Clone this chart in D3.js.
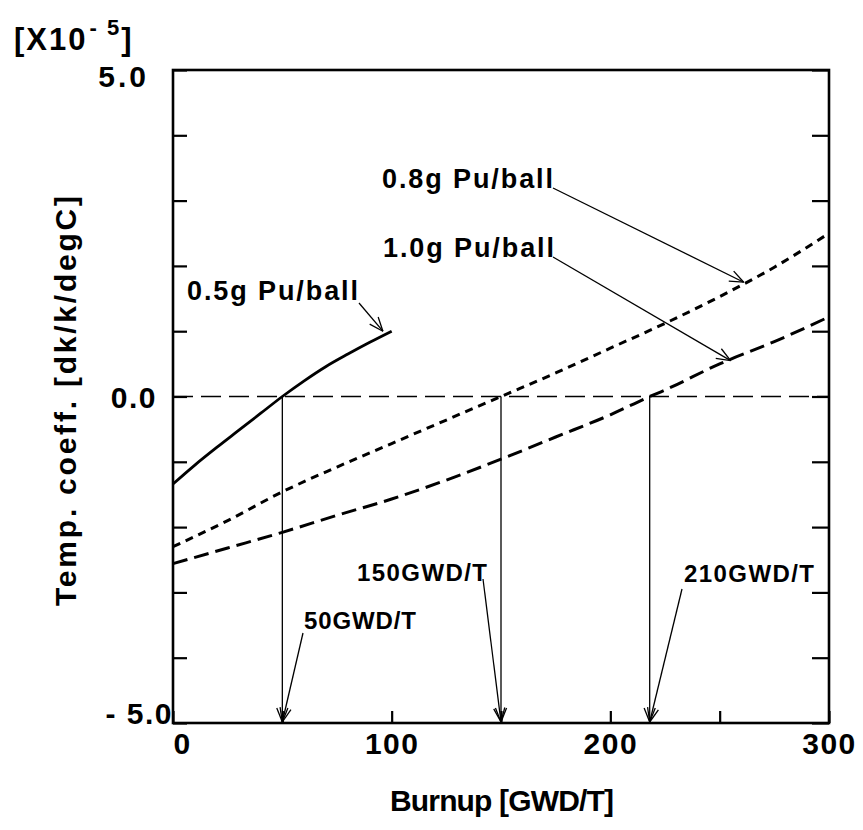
<!DOCTYPE html>
<html>
<head>
<meta charset="utf-8">
<script src="https://cdn.jsdelivr.net/npm/d3@7"></script>
<style>
  html, body { margin: 0; padding: 0; background: #fff; }
  svg { display: block; }
  text { font-family: "Liberation Sans", Arial, Helvetica, sans-serif; font-weight: bold; fill: #000; }
</style>
</head>
<body>
<svg id="chart" width="863" height="830"></svg>
<script>
// Burnup [GWD/T] sample points and temperature coefficient [x10^-5 dk/k/degC]
const burnup05 = [0, 10, 20, 30, 40, 50, 60, 70, 80, 90, 100];
const coef05   = [-1.34, -1.05, -0.78, -0.52, -0.26, 0.0, 0.24, 0.46, 0.65, 0.83, 1.0];

const burnup08 = [0, 25, 50, 75, 100, 125, 150, 175, 200, 225, 250, 275, 300];
const coef08   = [-2.30, -1.90, -1.46, -1.08, -0.72, -0.36, 0.0, 0.36, 0.74, 1.12, 1.53, 1.98, 2.50];

const burnup10 = [0, 25, 50, 75, 100, 125, 150, 175, 200, 218, 225, 250, 275, 300];
const coef10   = [-2.56, -2.32, -2.08, -1.82, -1.57, -1.28, -0.96, -0.62, -0.28, 0.0, 0.10, 0.50, 0.84, 1.22];

// Burnup where each curve reaches zero, with its label
const zeroBurnup = [50, 150, 218];
const zeroLabels = ["50GWD/T", "150GWD/T", "210GWD/T"];

// Curve names
const seriesNames = ["0.5g Pu/ball", "0.8g Pu/ball", "1.0g Pu/ball"];

// Axis ticks
const xTicks = [0, 50, 100, 150, 200, 250, 300];
const xTickLabels = ["0", "", "100", "", "200", "", "300"];
const yTicks = [-5, -4, -3, -2, -1, 0, 1, 2, 3, 4, 5];
const yTickLabels = { "-5": "- 5.0", "0": "0.0", "5": "5.0" };

const svg = d3.select("#chart");
const L = 173, R = 829, T = 70, B = 723;
const x = d3.scaleLinear().domain([0, 300]).range([L, R]);
const y = d3.scaleLinear().domain([-5, 5]).range([B, T]);

// zero reference line
svg.append("line")
  .attr("x1", x(0)).attr("x2", x(300)).attr("y1", y(0)).attr("y2", y(0))
  .attr("stroke", "#000").attr("stroke-width", 1.4).attr("stroke-dasharray", "20,8");

// curves
const line = d3.line().x(d => x(d[0])).y(d => y(d[1])).curve(d3.curveMonotoneX);
const series = [
  { xs: burnup05, ys: coef05, dash: null, w: 2.8 },
  { xs: burnup08, ys: coef08, dash: "8,6", w: 3 },
  { xs: burnup10, ys: coef10, dash: "15,7", w: 3 }
];
series.forEach(s => {
  svg.append("path")
    .attr("d", line(d3.zip(s.xs, s.ys)))
    .attr("fill", "none").attr("stroke", "#000")
    .attr("stroke-width", s.w)
    .attr("stroke-dasharray", s.dash);
});

// open arrowhead helper
function arrow(x1, y1, x2, y2, w) {
  const g = svg.append("g").attr("stroke", "#000").attr("stroke-width", w || 1.3).attr("fill", "none");
  g.append("line").attr("x1", x1).attr("y1", y1).attr("x2", x2).attr("y2", y2);
  const a = Math.atan2(y2 - y1, x2 - x1), len = 15, sp = 0.38;
  [a + Math.PI - sp, a + Math.PI + sp].forEach(b => {
    g.append("line").attr("x1", x2).attr("y1", y2)
      .attr("x2", x2 + len * Math.cos(b)).attr("y2", y2 + len * Math.sin(b));
  });
}

// vertical drops from each zero crossing to the axis
zeroBurnup.forEach(b => arrow(x(b), y(0), x(b), y(-5) - 1, 1.3));

// crossing labels with leader arrows
const zeroLabelPos = [
  { tx: 304, ty: 629, w: 112, sx: 303, sy: 633 },
  { tx: 357, ty: 581, w: 130, sx: 483, sy: 579 },
  { tx: 684, ty: 582, w: 130, sx: 682, sy: 589 }
];
zeroLabels.forEach((t, i) => {
  const p = zeroLabelPos[i];
  svg.append("text").attr("x", p.tx).attr("y", p.ty)
    .attr("font-size", 24).attr("textLength", p.w).attr("lengthAdjust", "spacing").text(t);
  arrow(p.sx, p.sy, x(zeroBurnup[i]), y(-5) - 1, 1.3);
});

// curve labels with leader arrows
const seriesTips = [[96, 1.0], [261, 1.75], [255, 0.55]];
const seriesLabelPos = [
  { tx: 187, ty: 300, w: 171, sx: 359, sy: 303 },
  { tx: 382, ty: 188, w: 171, sx: 553, sy: 188 },
  { tx: 383, ty: 257, w: 171, sx: 553, sy: 257 }
];
seriesNames.forEach((t, i) => {
  const p = seriesLabelPos[i];
  svg.append("text").attr("x", p.tx).attr("y", p.ty)
    .attr("font-size", 27).attr("textLength", p.w).attr("lengthAdjust", "spacing").text(t);
  arrow(p.sx, p.sy, x(seriesTips[i][0]), y(seriesTips[i][1]), 1.3);
});

// axes (ticks drawn inward)
const axL = svg.append("g").attr("transform", `translate(${L},0)`)
  .call(d3.axisLeft(y).tickValues(yTicks).tickSizeInner(-14).tickSizeOuter(0)
        .tickFormat(d => yTickLabels[String(d)] || ""));
const axR = svg.append("g").attr("transform", `translate(${R},0)`)
  .call(d3.axisRight(y).tickValues(yTicks).tickSizeInner(-17).tickSizeOuter(0).tickFormat(""));
const axB = svg.append("g").attr("transform", `translate(0,${B})`)
  .call(d3.axisBottom(x).tickValues(xTicks).tickSizeInner(-12).tickSizeOuter(0)
        .tickFormat((d, i) => xTickLabels[i]));
[axL, axR, axB].forEach(g => {
  g.select(".domain").remove();
  g.selectAll(".tick line").attr("stroke", "#000").attr("stroke-width", 2.2);
  g.selectAll("text").attr("font-family", null).attr("font-size", 30)
    .style("letter-spacing", "1.5px");
});
axL.selectAll(".tick text").attr("x", -16).attr("dy", "0.35em");
axL.selectAll(".tick").filter(d => d === 5).select("text").attr("x", -24).attr("dy", "0.55em").style("letter-spacing", "3px");
axL.selectAll(".tick").filter(d => d === -5).select("text").attr("x", 0).attr("dy", "0em");
axB.selectAll(".tick text").attr("y", 10).attr("dy", "0.71em");
axB.selectAll(".tick").filter(d => d === 0).select("text").attr("dx", "0.3em");

// frame
svg.append("rect").attr("x", L).attr("y", T).attr("width", R - L).attr("height", B - T)
  .attr("fill", "none").attr("stroke", "#000").attr("stroke-width", 2.6);

// axis titles
svg.append("text").attr("x", 390).attr("y", 811).attr("font-size", 30)
  .attr("textLength", 224).attr("lengthAdjust", "spacing").text("Burnup [GWD/T]");
svg.append("text").attr("transform", "translate(76,606) rotate(-90)").attr("font-size", 30)
  .attr("textLength", 410).attr("lengthAdjust", "spacing").text("Temp. coeff. [dk/k/degC]");

// scale factor
const sf = svg.append("text").attr("x", 14).attr("y", 50).attr("font-size", 31)
  .style("letter-spacing", "2px");
sf.append("tspan").text("[X10");
sf.append("tspan").attr("font-size", 22).attr("dy", -15).attr("dx", 2).text("- 5");
sf.append("tspan").attr("dy", 15).text("]");
</script>
</body>
</html>
